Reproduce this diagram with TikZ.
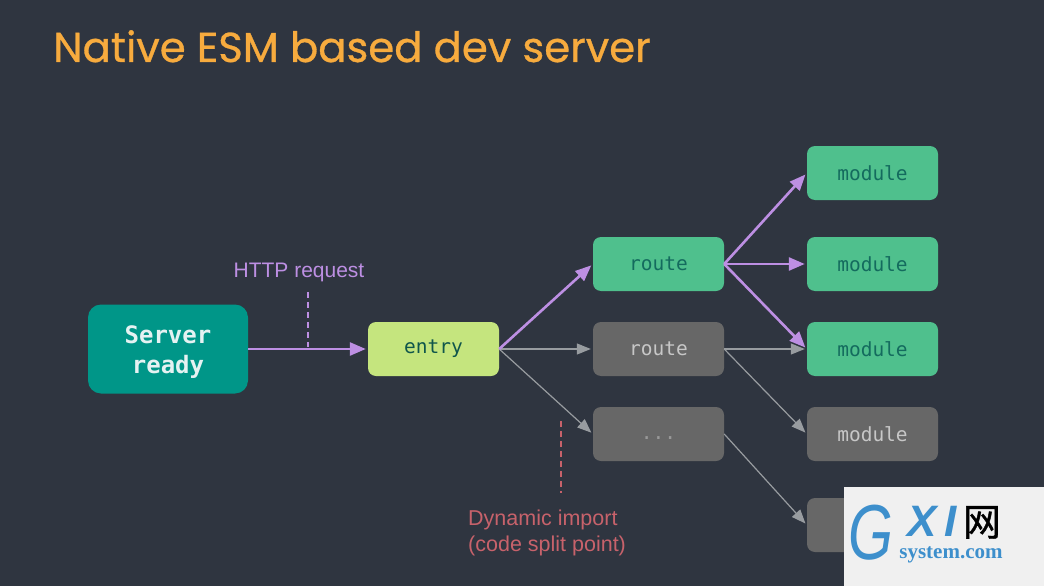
\documentclass[tikz,border=0pt]{standalone}
\usepackage{fontspec}
\setmainfont{Liberation Sans}
\newfontfamily\titlefont[FakeBold=0.7]{Poppins}
\newfontfamily\monofont{DejaVu Sans Mono}
\newfontfamily\cjkfont[FakeBold=1]{Noto Sans CJK SC}
\newfontfamily\logofont{Liberation Serif}
\usepackage{xcolor}
\usetikzlibrary{arrows.meta}

\definecolor{slidebg}{HTML}{2F3540}
\definecolor{titleorange}{HTML}{F7AB3E}
\definecolor{serverteal}{HTML}{009688}
\definecolor{entrylime}{HTML}{C5E57E}
\definecolor{loadgreen}{HTML}{4FC08D}
\definecolor{idlegrey}{HTML}{676767}
\definecolor{reqpurple}{HTML}{BD8FE3}
\definecolor{linkgrey}{HTML}{989CA0}
\definecolor{splitred}{HTML}{C7626B}
\definecolor{logoblue}{HTML}{3D8FCC}
\definecolor{modtext}{HTML}{146B5E}

\tikzset{
    box/.style={rounded corners=8pt, inner sep=0pt, minimum width=131pt, minimum height=54pt,
        font=\fontsize{19.5}{22}\monofont},
    loaded/.style={box, fill=loadgreen, text=modtext},
    idle/.style={box, fill=idlegrey, text=white!78!black},
    req/.style={-{Triangle[length=16pt,width=13pt]}, reqpurple, line width=2.6pt, shorten >=2pt},
    link/.style={-{Triangle[length=14pt,width=11pt]}, linkgrey, line width=1.2pt, shorten >=2pt},
    note/.style={dash pattern=on 6pt off 4pt, line width=1.3pt},
    logo/.style={inner sep=0pt, text depth=0pt},
}

\begin{document}
\begin{tikzpicture}[x=1pt, y=-1pt]
    % Sfondo
    \fill[slidebg] (0,0) rectangle (1044,586);
    \useasboundingbox (0,0) rectangle (1044,586);

    % Titolo
    \node[anchor=base west, inner sep=0pt, text=titleorange, font=\fontsize{41.8}{48}\titlefont] (title) at (53,62) {Native ESM based dev server};

    % Blocchi
    \node[box, minimum width=160pt, minimum height=89pt, rounded corners=13pt, fill=serverteal, text=white!90!teal,
        align=center, font=\fontsize{24}{30}\monofont\bfseries] (server) at (168,349) {\rule{0pt}{24pt}Server\\ready};
    \node[box, fill=entrylime, text=modtext!80!black] (entry) at (433.5,349) {entry};

    \node[loaded] (route1) at (658.5,264) {route};
    \node[idle] (route2) at (658.5,349) {route};
    \node[idle, text=white!60!black] (route3) at (658.5,434) {\smash{\raisebox{-5pt}{...}}};

    \node[loaded] (mod1) at (872.5,173) {module};
    \node[loaded] (mod2) at (872.5,264) {module};
    \node[loaded] (mod3) at (872.5,349) {module};
    \node[idle] (mod4) at (872.5,434) {module};
    \node[box, fill=idlegrey] (mod5) at (872.5,525) {};

    % Import dinamici
    \draw[link] (entry.east) -- (route2.west);
    \draw[link] (entry.east) -- (route3.west);
    \draw[link] (route2.east) -- (mod3.west);
    \draw[link] (route2.east) -- (mod4.west);
    \draw[link] (route3.east) -- (mod5.west);

    % Percorso della richiesta
    \draw[req] (server.east) -- (entry.west);
    \draw[req] (entry.east) -- (route1.west);
    \draw[req] (route1.east) -- (mod1.west);
    \draw[req] (route1.east) -- (mod2.west);
    \draw[req] (route1.east) -- (mod3.west);

    % Etichette
    \node[text=reqpurple, font=\fontsize{21}{24}\selectfont] (http) at (299,272) {HTTP request};
    \coordinate (httpend) at (308,347);
    \draw[reqpurple, note] (308,292) -- (httpend);

    \node[anchor=north west, inner sep=0pt, text=splitred, align=left, font=\fontsize{21.5}{26}\selectfont] (split) at (468,510) {Dynamic import\\(code split point)};
    \coordinate (splitend) at (561,493);
    \draw[splitred, note] (561,421) -- (splitend);

    % Riquadro in basso a destra
    \fill[white!94!black] (844,487) rectangle (1044,586);
    \node[logo, text=logoblue, xscale=0.74, font=\fontsize{78}{78}\selectfont\itshape] (logog) at (871,532) {G};
    \node[logo, text=logoblue, font=\fontsize{44}{44}\selectfont\itshape\bfseries] (logoxi) at (932,521) {X\,I};
    \node[logo, text=black, font=\fontsize{38}{38}\cjkfont] (logocn) at (982,521) {网};
    \node[logo, text=logoblue, font=\fontsize{21}{21}\logofont\bfseries] (logourl) at (951,553) {system.com};
\end{tikzpicture}
\end{document}
